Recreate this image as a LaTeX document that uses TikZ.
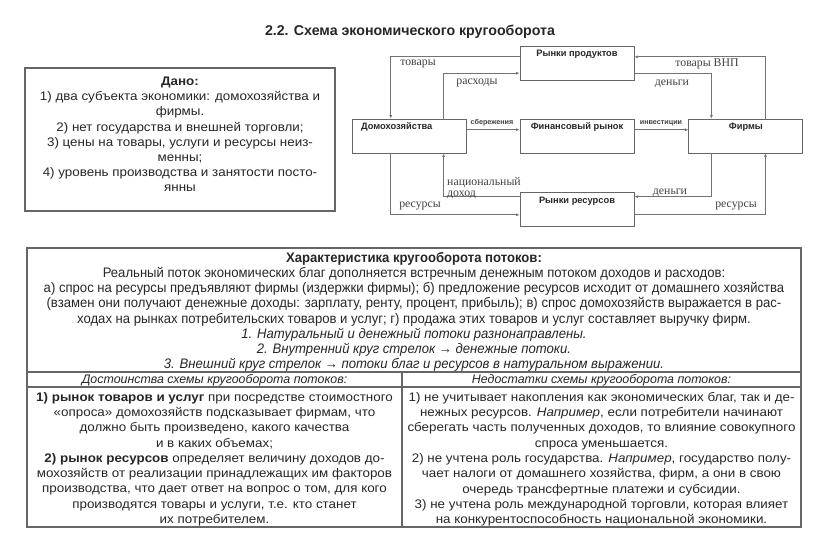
\documentclass[tikz,border=0pt]{standalone}
\usepackage{fontspec}
\setmainfont{Liberation Sans}
\newfontfamily\serifrm{Liberation Serif}
\newfontfamily\narrowsf[FakeStretch=0.95]{Liberation Sans}
\newfontfamily\widesf[FakeStretch=1.08]{Liberation Sans}
\usetikzlibrary{arrows.meta, positioning, calc}

\tikzset{
  market/.style={draw=black!60, line width=0.9pt, minimum width=114pt,
    text height=7.5pt, text depth=20.5pt, inner ysep=3pt, inner xsep=0pt,
    font=\bfseries\fontsize{9.3}{10}\selectfont, text=black!85},
  flow/.style={draw=black!55, line width=0.9pt, -{Latex[length=3.5pt,width=3pt]}},
  flowlbl/.style={font=\serifrm\fontsize{11.8}{11}\selectfont, text=black!75, inner sep=0pt},
  smalllbl/.style={font=\bfseries\fontsize{7.2}{8}\selectfont, text=black!75, inner sep=0pt},
  tbl/.style={draw=black!60, line width=1.1pt},
  cell/.style={font=\widesf\fontsize{12.4}{15.3}\selectfont, text=black!85, align=center, inner sep=0pt}
}

\begin{document}
\begin{tikzpicture}[x=1pt, y=-1pt]
  \useasboundingbox (0,0) rectangle (816,541);

  % Title
  \node[font=\bfseries\fontsize{14.2}{16}\selectfont, text=black!85] (title) at (410,32)
    {2.2. Схема экономического кругооборота};

  % Given
  \node[tbl, minimum width=310pt, minimum height=143pt] (given) at (180,139.5) {};
  \node[cell, font=\widesf\fontsize{12.4}{15.2}\selectfont] (giventxt) at ([yshift=5pt]given.center)
    {\textbf{Дано:}\\
     1) два субъекта экономики: домохозяйства и\\
     фирмы.\\
     2) нет государства и внешней торговли;\\
     3) цены на товары, услуги и ресурсы неиз-\\
     менны;\\
     4) уровень производства и занятости посто-\\
     янны};

  % Markets and agents
  \node[market] (fin) at (577,136) {Финансовый рынок};
  \node[market, text width=108pt, inner xsep=3pt, align=left, left=53pt of fin] (hh) {\hspace{6pt}Домохозяйства};
  \node[market, right=54pt of fin] (firm) {Фирмы};
  \node[market, above=38pt of fin] (pm) {Рынки продуктов};
  \node[market, below=39pt of fin] (rm) {Рынки ресурсов};

  % Outer circle: goods and resources
  \draw[flow] ($(pm.north west)!0.32!(pm.south west)$) -| ($(hh.north west)!0.34!(hh.north east)$);
  \draw[flow] ($(firm.north west)!0.67!(firm.north east)$) |- ($(pm.north east)!0.32!(pm.south east)$);
  \draw[flow] ($(hh.south west)!0.34!(hh.south east)$) |- ($(rm.north west)!0.64!(rm.south west)$);
  \draw[flow] ($(rm.north east)!0.64!(rm.south east)$) -| ($(firm.south west)!0.67!(firm.south east)$);

  % Inner circle: money
  \draw[flow] ($(hh.north west)!0.8!(hh.north east)$) |- ($(pm.north west)!0.79!(pm.south west)$);
  \draw[flow] ($(pm.north east)!0.79!(pm.south east)$) -| ($(firm.north west)!0.2!(firm.north east)$);
  \draw[flow] ($(firm.south west)!0.2!(firm.south east)$) |- ($(rm.north east)!0.12!(rm.south east)$);
  \draw[flow] ($(rm.north west)!0.12!(rm.south west)$) -| ($(hh.south west)!0.8!(hh.south east)$);

  % Financial market
  \draw[flow] ($(hh.north east)!0.32!(hh.south east)$) -- ($(fin.north west)!0.32!(fin.south west)$);
  \draw[flow] ($(fin.north east)!0.32!(fin.south east)$) -- ($(firm.north west)!0.32!(firm.south west)$);

  % Flow labels
  \node[flowlbl] (l1) at (418,64) {товары};
  \node[flowlbl] (l2) at (477,83) {расходы};
  \node[flowlbl] (l3) at (707,64) {товары ВНП};
  \node[flowlbl] (l4) at (672,84) {деньги};
  \node[smalllbl] (l5) at (492,123) {сбережения};
  \node[smalllbl] (l6) at (661,123) {инвестиции};
  \node[flowlbl, align=left, anchor=west] (l7) at (447,188) {национальный\\доход};
  \node[flowlbl] (l8) at (670,193) {деньги};
  \node[flowlbl] (l9) at (420,206) {ресурсы};
  \node[flowlbl] (l10) at (736,206) {ресурсы};

  % Table
  \draw[tbl] (27,248) rectangle (801,527);
  \draw[tbl] (27,372) -- (801,372);
  \draw[tbl] (27,387) -- (801,387);
  \draw[tbl] (402,372) -- (402,527);

  \node[cell, anchor=north, font=\narrowsf\fontsize{13.8}{15.2}\selectfont] (chars) at (414,252)
    {\textbf{Характеристика кругооборота потоков:}\\
     Реальный поток экономических благ дополняется встречным денежным потоком доходов и расходов:\\
     а) спрос на ресурсы предъявляют фирмы (издержки фирмы); б) предложение ресурсов исходит от домашнего хозяйства\\
     (взамен они получают денежные доходы: зарплату, ренту, процент, прибыль); в) спрос домохозяйств выражается в рас-\\
     ходах на рынках потребительских товаров и услуг; г) продажа этих товаров и услуг составляет выручку фирм.\\
     \textit{1. Натуральный и денежный потоки разнонаправлены.}\\
     \textit{2. Внутренний круг стрелок → денежные потоки.}\\
     \textit{3. Внешний круг стрелок → потоки благ и ресурсов в натуральном выражении.}};

  \node[cell, font=\itshape\fontsize{12.4}{13}\selectfont] (prosh) at (214.5,380)
    {Достоинства схемы кругооборота потоков:};
  \node[cell, font=\itshape\fontsize{12.4}{13}\selectfont] (consh) at (601.5,380)
    {Недостатки схемы кругооборота потоков:};

  \node[cell, anchor=north] (pros) at (214.5,392)
    {\textbf{1) рынок товаров и услуг} при посредстве стоимостного\\
     «опроса» домохозяйств подсказывает фирмам, что\\
     должно быть произведено, какого качества\\
     и в каких объемах;\\
     \textbf{2) рынок ресурсов} определяет величину доходов до-\\
     мохозяйств от реализации принадлежащих им факторов\\
     производства, что дает ответ на вопрос о том, для кого\\
     производятся товары и услуги, т.е. кто станет\\
     их потребителем.};
  \node[cell, anchor=north] (cons) at (601.5,392)
    {1) не учитывает накопления как экономических благ, так и де-\\
     нежных ресурсов. \textit{Например}, если потребители начинают\\
     сберегать часть полученных доходов, то влияние совокупного\\
     спроса уменьшается.\\
     2) не учтена роль государства. \textit{Например}, государство полу-\\
     чает налоги от домашнего хозяйства, фирм, а они в свою\\
     очередь трансфертные платежи и субсидии.\\
     3) не учтена роль международной торговли, которая влияет\\
     на конкурентоспособность национальной экономики.};
\end{tikzpicture}
\end{document}
